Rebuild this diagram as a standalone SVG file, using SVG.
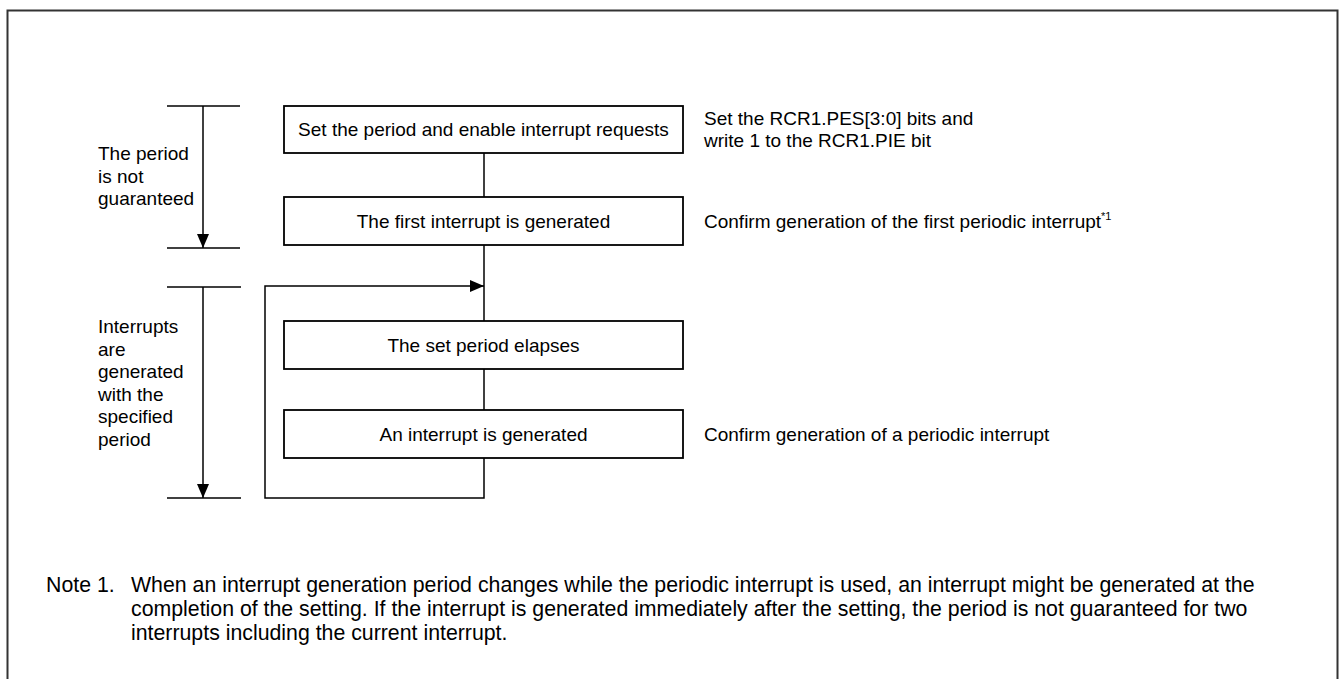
<svg xmlns="http://www.w3.org/2000/svg" width="1340" height="679" viewBox="0 0 1340 679">
<style>
text{font-family:"Liberation Sans",Arial,sans-serif;font-size:19px;fill:#000}
.note{font-size:21.3px}
.box{fill:#fff;stroke:#000;stroke-width:1.8}
.ln{fill:none;stroke:#000;stroke-width:1.5}
.mid{text-anchor:middle}
</style>
<defs>
<marker id="ah" viewBox="0 0 14 12" refX="14" refY="6" markerWidth="14" markerHeight="12" markerUnits="userSpaceOnUse" orient="auto">
<path d="M0,0 L14,6 L0,12 Z" fill="#000"/>
</marker>
</defs>
<rect x="7.5" y="10.5" width="1330" height="700" fill="#fff" stroke="#333" stroke-width="2"/>
<g id="connectors">
<line class="ln" x1="167" y1="106" x2="240" y2="106"/>
<line class="ln" x1="203" y1="106" x2="203" y2="248" marker-end="url(#ah)"/>
<line class="ln" x1="167" y1="248" x2="240" y2="248"/>
<line class="ln" x1="167" y1="287" x2="241" y2="287" stroke="#777"/>
<line class="ln" x1="203" y1="287" x2="203" y2="498" marker-end="url(#ah)"/>
<line class="ln" x1="167" y1="498" x2="241" y2="498"/>
<line class="ln" x1="484" y1="153" x2="484" y2="197"/>
<line class="ln" x1="484" y1="245" x2="484" y2="321"/>
<line class="ln" x1="484" y1="369" x2="484" y2="410"/>
<polyline class="ln" points="484,458 484,498 265,498 265,286 484,286" marker-end="url(#ah)"/>
</g>
<g id="n1"><rect class="box" x="284" y="106" width="399" height="47"/><text class="mid" x="483.5" y="136">Set the period and enable interrupt requests</text></g>
<g id="n2"><rect class="box" x="284" y="197" width="399" height="48"/><text class="mid" x="483.5" y="228">The first interrupt is generated</text></g>
<g id="n3"><rect class="box" x="284" y="321" width="399" height="48"/><text class="mid" x="483.5" y="352">The set period elapses</text></g>
<g id="n4"><rect class="box" x="284" y="410" width="399" height="48"/><text class="mid" x="483.5" y="441">An interrupt is generated</text></g>
<g id="label1"><text x="98" y="160">The period</text><text x="98" y="182.5">is not</text><text x="98" y="205">guaranteed</text></g>
<g id="label2"><text x="98" y="333">Interrupts</text><text x="98" y="355.5">are</text><text x="98" y="378">generated</text><text x="98" y="400.5">with the</text><text x="98" y="423">specified</text><text x="98" y="445.5">period</text></g>
<g id="notes-right">
<text x="704" y="125">Set the RCR1.PES[3:0] bits and</text>
<text x="704" y="147">write 1 to the RCR1.PIE bit</text>
<text x="704" y="228">Confirm generation of the first periodic interrupt<tspan font-size="11" dy="-8">*1</tspan></text>
<text x="704" y="441">Confirm generation of a periodic interrupt</text>
</g>
<g id="footnote">
<text class="note" x="46" y="592">Note 1.</text>
<text class="note" x="131" y="592">When an interrupt generation period changes while the periodic interrupt is used, an interrupt might be generated at the</text>
<text class="note" x="131" y="616">completion of the setting. If the interrupt is generated immediately after the setting, the period is not guaranteed for two</text>
<text class="note" x="131" y="640">interrupts including the current interrupt.</text>
</g>
</svg>
